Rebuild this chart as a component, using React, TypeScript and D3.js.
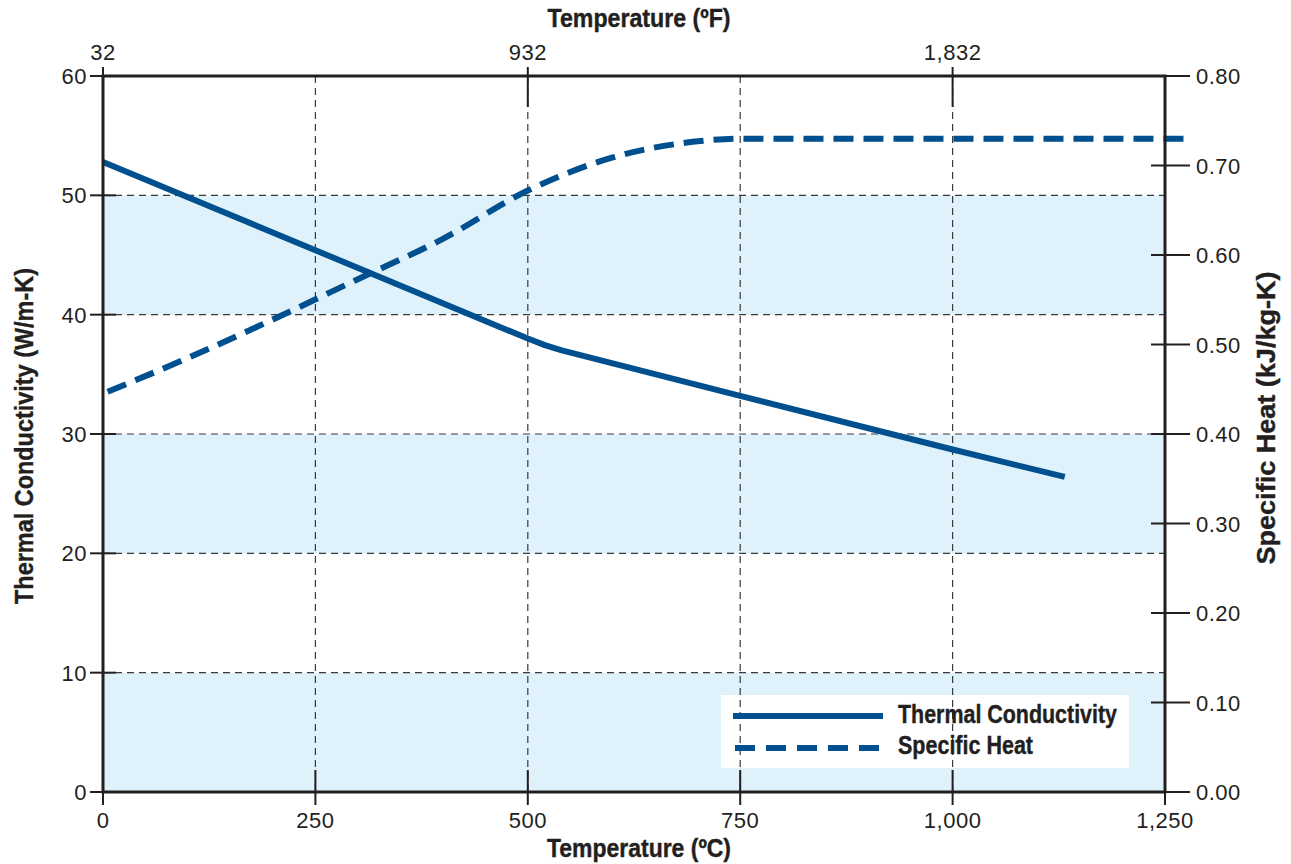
import React from "react";
import * as d3 from "d3";

// Temperature in °C vs thermal conductivity (W/m-K)
const condTemps = [0, 250, 500, 520, 540, 750, 1000, 1132];
const condValues = [52.8, 45.4, 38.0, 37.45, 37.0, 33.2, 28.7, 26.4];

// Temperature in °C vs specific heat (kJ/kg-K)
const heatTemps = [0, 100, 200, 300, 400, 500, 600, 700, 750, 1000, 1280];
const heatValues = [0.445, 0.485, 0.528, 0.573, 0.618, 0.672, 0.709, 0.727, 0.73, 0.73, 0.73];

const xTicks = [0, 250, 500, 750, 1000, 1250];
const yLeftTicks = [0, 10, 20, 30, 40, 50, 60];
const yRightTicks = [0, 0.1, 0.2, 0.3, 0.4, 0.5, 0.6, 0.7, 0.8];
const topTicksC = [0, 500, 1000];
const topTickLabels = ["32", "932", "1,832"];
const bands = [[0, 10], [20, 30], [40, 50]];

const W = 1291;
const H = 864;
const L = 103, R = 1165, T = 76, B = 792;

const ink = "#231f20";
const blue = "#00508f";
const band = "#dff1fb";
const tickFont = "'Liberation Sans', Arial, Helvetica, sans-serif";
const titleFont = "'Liberation Sans', Arial, sans-serif";

// condensed bold label, squeezed to a fixed width
function Title(props: { x: number; y: number; width: number; anchor?: string; transform?: string; children: string }) {
  return (
    <text
      x={props.x}
      y={props.y}
      transform={props.transform}
      textAnchor={props.anchor || "start"}
      textLength={props.width}
      lengthAdjust="spacingAndGlyphs"
      fontFamily={titleFont}
      fontWeight="bold"
      fontSize={25}
      fill={ink}
      stroke={ink}
      strokeWidth={0.4}
    >
      {props.children}
    </text>
  );
}

export default function App() {
  const x = d3.scaleLinear().domain([0, 1250]).range([L, R]);
  const yL = d3.scaleLinear().domain([0, 60]).range([B, T]);
  const yR = d3.scaleLinear().domain([0, 0.8]).range([B, T]);

  const condLine = d3
    .line<number>()
    .x((_, i) => x(condTemps[i]))
    .y((d) => yL(d));
  const heatLine = d3
    .line<number>()
    .x((_, i) => x(heatTemps[i]))
    .y((d) => yR(d))
    .curve(d3.curveMonotoneX);

  const fmtX = d3.format(",");
  const fmtR = d3.format(".2f");

  const legX = 721, legY = 695, legW = 408, legH = 73;
  const tickText = { fontFamily: tickFont, fontSize: 22, fill: ink, letterSpacing: 0.5 };

  return (
    <svg
      width={W}
      height={H}
      style={{ position: "absolute", left: 0, top: 0, background: "#fff" }}
    >
      {/* shaded horizontal bands */}
      {bands.map(([a, b], i) => (
        <rect key={"b" + i} x={L} y={yL(b)} width={R - L} height={yL(a) - yL(b)} fill={band} />
      ))}

      {/* legend background */}
      <rect x={legX} y={legY} width={legW} height={legH} fill="#fff" />

      {/* dashed grid */}
      <g stroke="#3a3a3a" strokeWidth={1.2} strokeDasharray="7,5">
        {yLeftTicks.slice(1, -1).map((v) => (
          <line key={"h" + v} x1={L} x2={R} y1={yL(v)} y2={yL(v)} />
        ))}
        {xTicks.slice(1, -1).map((v) => (
          <line key={"v" + v} x1={x(v)} x2={x(v)} y1={T} y2={B} />
        ))}
      </g>

      {/* data lines */}
      <path d={condLine(condValues) || ""} fill="none" stroke={blue} strokeWidth={6} strokeLinejoin="round" />
      <path
        d={heatLine(heatValues) || ""}
        fill="none"
        stroke={blue}
        strokeWidth={6}
        strokeDasharray="20,10"
        strokeDashoffset={-5}
      />

      {/* frame */}
      <rect x={L} y={T} width={R - L} height={B - T} fill="none" stroke={ink} strokeWidth={3} />

      {/* bottom axis */}
      {xTicks.map((v) => (
        <g key={"xt" + v}>
          <line x1={x(v)} x2={x(v)} y1={v === 0 || v === 1250 ? B : B - 22} y2={B + 13} stroke={ink} strokeWidth={2} />
          <text x={x(v)} y={828} textAnchor="middle" {...tickText}>
            {fmtX(v)}
          </text>
        </g>
      ))}
      <Title x={639} y={857} width={184} anchor="middle">Temperature (ºC)</Title>

      {/* top axis in °F */}
      {topTicksC.map((v, i) => (
        <g key={"tt" + v}>
          <line x1={x(v)} x2={x(v)} y1={T - 9} y2={v === 0 ? T : T + 31} stroke={ink} strokeWidth={2} />
          <text x={x(v)} y={60} textAnchor="middle" {...tickText}>
            {topTickLabels[i]}
          </text>
        </g>
      ))}
      <Title x={639} y={27} width={183} anchor="middle">Temperature (ºF)</Title>

      {/* left axis */}
      {yLeftTicks.map((v) => (
        <g key={"yl" + v}>
          <line x1={L - 13} x2={v === 0 || v === 60 ? L : L + 13} y1={yL(v)} y2={yL(v)} stroke={ink} strokeWidth={2} />
          <text x={87} y={yL(v) + 8} textAnchor="end" {...tickText}>
            {v}
          </text>
        </g>
      ))}
      <Title x={0} y={0} width={336} anchor="middle" transform="translate(33,436) rotate(-90)">
        Thermal Conductivity (W/m-K)
      </Title>

      {/* right axis */}
      {yRightTicks.map((v) => (
        <g key={"yr" + v}>
          <line x1={v === 0 || v === 0.8 ? R : R - 14} x2={R + 25} y1={yR(v)} y2={yR(v)} stroke={ink} strokeWidth={2} />
          <text x={1196} y={yR(v) + 8} textAnchor="start" {...tickText}>
            {fmtR(v)}
          </text>
        </g>
      ))}
      <Title x={0} y={0} width={293} anchor="middle" transform="translate(1275,418) rotate(-90)">
        Specific Heat (kJ/kg-K)
      </Title>

      {/* legend */}
      <line x1={733} x2={883} y1={716} y2={716} stroke={blue} strokeWidth={6} />
      <line x1={735} x2={885} y1={748} y2={748} stroke={blue} strokeWidth={6} strokeDasharray="20,11" />
      <Title x={898} y={723} width={219}>Thermal Conductivity</Title>
      <Title x={898} y={754} width={135}>Specific Heat</Title>
    </svg>
  );
}
